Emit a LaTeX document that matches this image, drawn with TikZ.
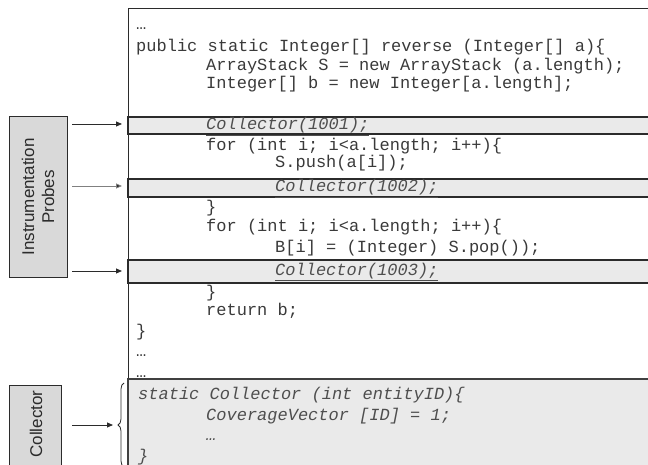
\documentclass[tikz,border=0pt]{standalone}
\usepackage{fontspec}
\setmainfont{Liberation Sans}
\newfontfamily\codefont{Liberation Mono}
\usetikzlibrary{decorations.pathreplacing,arrows.meta}
\definecolor{ink}{HTML}{2B2B2B}
\definecolor{codeink}{HTML}{3A3A3A}
\definecolor{probefill}{HTML}{EAEAEA}
\definecolor{labelfill}{HTML}{D9D9D9}
\tikzset{
  code/.style={anchor=base west, inner sep=0pt, font=\codefont\fontsize{17}{19}\selectfont, text=codeink},
  probe/.style={code, font=\codefont\itshape\fontsize{17}{19}\selectfont, text=codeink!90},
  band/.style={fill=probefill, draw=ink, line width=1.1pt},
  labelbox/.style={fill=labelfill, draw=ink, line width=1pt},
  label/.style={rotate=90, align=center, font=\fontsize{17}{20}\selectfont, text=ink},
  feed/.style={draw=ink, line width=0.8pt, -{Triangle[length=6pt,width=5pt]}},
}
\begin{document}
\begin{tikzpicture}[x=1pt,y=-1pt]
\useasboundingbox (0,0) rectangle (648,465);
\clip (0,0) rectangle (648,465);

% listing frame
\draw[ink, line width=1pt, fill=white] (128,9) rectangle (670,480);

% instrumented lines
\draw[band] (128,117) rectangle (670,134);
\draw[band] (128,179) rectangle (670,197);
\draw[band] (128,260) rectangle (670,283);

% method body
\node[code] (l0)  at (136,30)  {…};
\node[code] (l1)  at (136,52)  {public static Integer[] reverse (Integer[] a)\{};
\node[code] (l2)  at (206,71)  {ArrayStack S = new ArrayStack (a.length);};
\node[code] (l3)  at (206,89)  {Integer[] b = new Integer[a.length];};
\node[probe] (p1) at (206,130) {\underline{Collector(1001);}};
\node[code] (l4)  at (206,151) {for (int i; i<a.length; i++)\{};
\node[code] (l5)  at (275,168) {S.push(a[i]);};
\node[probe] (p2) at (275,192) {\underline{Collector(1002);}};
\node[code] (l6)  at (206,213) {\}};
\node[code] (l7)  at (206,232) {for (int i; i<a.length; i++)\{};
\node[code] (l8)  at (275,253) {B[i] = (Integer) S.pop());};
\node[probe] (p3) at (275,275) {\underline{Collector(1003);}};
\node[code] (l9)  at (206,297) {\}};
\node[code] (l10) at (206,315) {return b;};
\node[code] (l11) at (136,336) {\}};
\node[code] (l12) at (136,356) {…};
\node[code] (l13) at (136,377) {…};

% collector routine
\draw[fill=probefill, draw=ink!90, line width=1.1pt] (128,379) rectangle (670,480);
\node[probe] (c1) at (138,399) {static Collector (int entityID)\{};
\node[probe] (c2) at (206,420) {CoverageVector [ID] = 1;};
\node[probe] (c3) at (206,440) {…};
\node[probe] (c4) at (138,461) {\}};

% side labels
\draw[labelbox] (9,117) rectangle (67,277);
\node[label] (instr) at (38,197) {Instrumentation\\Probes};
\draw[labelbox] (9,385) rectangle (61,480);
\node[label] (coll) at (36,424) {Collector};

% probe feeds
\coordinate (a1s) at (72,124);  \coordinate (a1e) at (122,124);
\coordinate (a2s) at (72,186);  \coordinate (a2e) at (122,186);
\coordinate (a3s) at (72,271);  \coordinate (a3e) at (122,271);
\coordinate (a4s) at (72,425);  \coordinate (a4e) at (113,425);
\draw[feed] (a1s) -- (a1e);
\draw[feed, draw=ink!60, -{Triangle[length=6pt,width=5pt,fill=ink]}] (a2s) -- (a2e);
\draw[feed] (a3s) -- (a3e);
\draw[feed] (a4s) -- (a4e);

% brace around the collector routine
\coordinate (bb) at (124,467);
\coordinate (bt) at (124,383);
\draw[ink, line width=0.8pt, decorate, decoration={brace, amplitude=6pt}] (bb) -- (bt);
\end{tikzpicture}
\end{document}
